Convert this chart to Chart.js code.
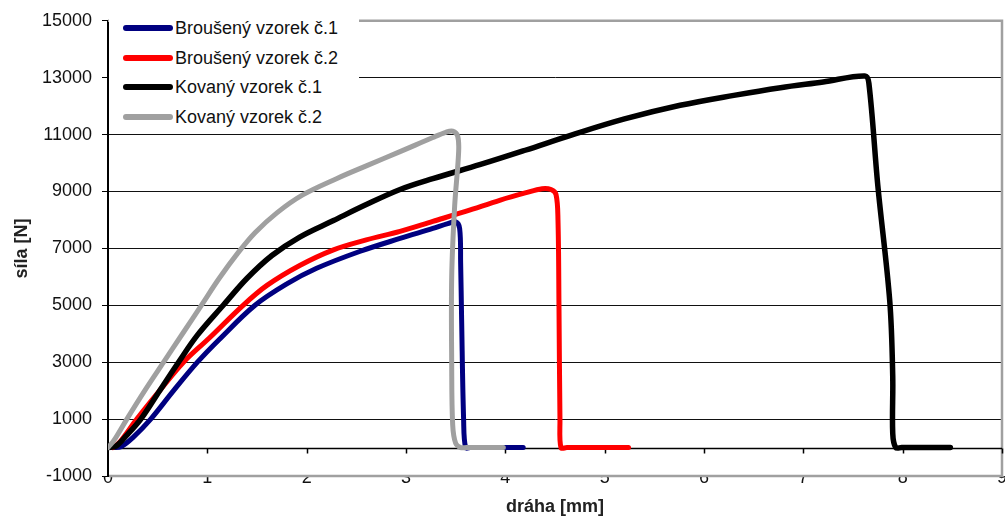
<!DOCTYPE html>
<html lang="cs">
<head>
<meta charset="UTF-8">
<title>Síla – dráha</title>
<script src="https://cdn.jsdelivr.net/npm/chart.js"></script>
<style>
    html, body { margin: 0; padding: 0; background: #fff; }
    #wrap { position: relative; width: 1005px; height: 518px; font-family: 'Liberation Sans', Arial, sans-serif; }
    #chart { position: absolute; left: 0; top: 0; }
    #legend { position: absolute; left: 109px; top: 11px; width: 250px; height: 121px; background: #fff; }
    .item { position: absolute; left: 0; width: 250px; height: 30px; }
    .item .line { position: absolute; left: 14px; top: 12px; width: 50px; height: 6px; border-radius: 3px; }
    .item .label { position: absolute; left: 66px; top: 0; line-height: 30px; font-size: 18px; color: #111; white-space: nowrap; }
</style>
</head>
<body>
<div id="wrap">
    <canvas id="chart" width="1005" height="518"></canvas>
    <div id="legend"></div>
</div>

<script>
    // osa x: dráha [mm], osa y: síla [N]
    const xMin = 0, xMax = 9, xStep = 1;
    const yMin = -1000, yMax = 15000, yStep = 2000;

    const seriesNames = ['Broušený vzorek č.1', 'Broušený vzorek č.2', 'Kovaný vzorek č.1', 'Kovaný vzorek č.2'];
    const seriesColors = ['#000080', '#ff0000', '#000000', '#a0a0a0'];

    // Broušený vzorek č.1
    const brouseny1X = [0.05, 0.13, 0.25, 0.43, 0.66, 0.9, 1.12, 1.48, 1.8, 2.1, 2.54, 2.94, 3.27, 3.42, 3.5, 3.54, 3.55, 3.56, 3.58, 3.6, 3.65, 4.18];
    const brouseny1Y = [0, 30, 350, 1000, 2000, 3000, 3800, 5000, 5750, 6300, 6900, 7350, 7700, 7870, 7930, 7700, 6500, 4500, 1000, 0, 0, 0];

    // Broušený vzorek č.2
    const brouseny2X = [0.05, 0.12, 0.29, 0.52, 0.76, 1.02, 1.36, 1.6, 1.93, 2.27, 2.6, 2.94, 3.27, 3.6, 3.95, 4.2, 4.37, 4.46, 4.51, 4.53, 4.54, 4.55, 4.56, 4.62, 5.24];
    const brouseny2Y = [0, 200, 1000, 2000, 3000, 3850, 5000, 5700, 6400, 6950, 7300, 7600, 7950, 8300, 8700, 8950, 9100, 9070, 8900, 8000, 5000, 1000, 0, 0, 0];

    // Kovaný vzorek č.1
    const kovany1X = [0, 0.08, 0.18, 0.33, 0.52, 0.71, 0.9, 1.16, 1.4, 1.65, 1.93, 2.27, 2.6, 2.94, 3.27, 3.75, 4.2, 4.68, 5.2, 5.76, 6.3, 6.77, 7.2, 7.62, 7.66, 7.75, 7.87, 7.9, 7.9, 7.93, 7.99, 8.48];
    const kovany1Y = [0, 50, 400, 1000, 2000, 3000, 3950, 5000, 5950, 6750, 7400, 7980, 8540, 9070, 9450, 9950, 10450, 11000, 11550, 12030, 12380, 12650, 12850, 13060, 12800, 9200, 5150, 2500, 500, 0, 0, 0];

    // Kovaný vzorek č.2
    const kovany2X = [0, 0.06, 0.19, 0.37, 0.56, 0.75, 0.94, 1.12, 1.31, 1.48, 1.7, 1.96, 2.3, 2.6, 2.94, 3.27, 3.4, 3.47, 3.52, 3.53, 3.49, 3.46, 3.46, 3.47, 3.5, 3.55, 3.61, 3.98];
    const kovany2Y = [0, 250, 1000, 2000, 3000, 4000, 5000, 5950, 6850, 7550, 8250, 8880, 9450, 9900, 10400, 10900, 11080, 11120, 10950, 10400, 8500, 6000, 3000, 800, 150, 0, 0, 0];

    const seriesX = [brouseny1X, brouseny2X, kovany1X, kovany2X];
    const seriesY = [brouseny1Y, brouseny2Y, kovany1Y, kovany2Y];

    // legenda uvnitř grafu (bílý box vlevo nahoře)
    const legendEl = document.getElementById('legend');
    seriesNames.forEach((name, i) => {
        const item = document.createElement('div');
        item.className = 'item';
        item.style.top = (2 + i * 29.7) + 'px';
        item.innerHTML = `<div class="line" style="background:${seriesColors[i]}"></div><div class="label">${name}</div>`;
        legendEl.appendChild(item);
    });

    // rámeček plochy grafu a osa x v nule s čárkami
    const frameAndZero = {
        id: 'frameAndZero',
        beforeDatasetsDraw(chart) {
            const { ctx, chartArea: a, scales: { x, y } } = chart;
            ctx.save();
            ctx.strokeStyle = '#a0a0a0';
            ctx.lineWidth = 2.5;
            ctx.beginPath();
            ctx.moveTo(a.left, a.top);
            ctx.lineTo(a.right, a.top);
            ctx.lineTo(a.right, a.bottom);
            ctx.lineTo(a.left + 1, a.bottom);
            ctx.stroke();

            const y0 = Math.round(y.getPixelForValue(0)) + 0.5;
            ctx.strokeStyle = '#000';
            ctx.lineWidth = 1.5;
            ctx.beginPath();
            ctx.moveTo(a.left, y0);
            ctx.lineTo(a.right, y0);
            for (let v = xMin + xStep; v <= xMax; v += xStep) {
                const px = Math.round(x.getPixelForValue(v)) + 0.5;
                ctx.moveTo(px, y0);
                ctx.lineTo(px, y0 + 5);
            }
            ctx.stroke();
            ctx.restore();
        }
    };

    const datasets = seriesNames.map((name, i) => ({
        label: name,
        data: seriesX[i].map((v, j) => ({ x: v, y: seriesY[i][j] })),
        showLine: true,
        borderColor: seriesColors[i],
        backgroundColor: seriesColors[i],
        borderWidth: i === 2 ? 5.5 : 5,
        pointRadius: 0,
        tension: 0.35,
        borderCapStyle: 'round',
        borderJoinStyle: 'round',
        order: seriesNames.length - i
    }));

    const font = { family: "'Liberation Sans', Arial, sans-serif", size: 18 };

    new Chart(document.getElementById('chart'), {
        type: 'scatter',
        data: { datasets },
        plugins: [frameAndZero],
        options: {
            responsive: false,
            animation: false,
            layout: { padding: { left: 11, top: 20, right: 3, bottom: 0 } },
            plugins: {
                legend: { display: false },
                tooltip: { enabled: false }
            },
            scales: {
                x: {
                    type: 'linear',
                    min: xMin,
                    max: xMax,
                    ticks: {
                        stepSize: xStep,
                        padding: -9,
                        color: '#111',
                        font: font,
                        maxRotation: 0,
                        callback: (v) => String(v)
                    },
                    grid: { display: false, drawTicks: false },
                    border: { display: false },
                    title: {
                        display: true,
                        text: 'dráha [mm]',
                        color: '#222',
                        font: { family: font.family, size: 18, weight: 'bold' },
                        padding: { top: 0, bottom: 0 }
                    },
                    afterFit: (scale) => {
                        scale.height = 42;
                        scale.paddingLeft = 0;
                        scale.paddingRight = 0;
                    }
                },
                y: {
                    type: 'linear',
                    min: yMin,
                    max: yMax,
                    ticks: {
                        stepSize: yStep,
                        padding: 10,
                        color: '#111',
                        font: font,
                        callback: (v) => String(v)
                    },
                    grid: {
                        color: (c) => (c.tick && (c.tick.value === yMin || c.tick.value === yMax)) ? 'rgba(0,0,0,0)' : '#111',
                        tickColor: '#000',
                        lineWidth: 1,
                        tickLength: 6
                    },
                    border: { display: true, color: '#000', width: 2 },
                    title: {
                        display: true,
                        text: 'síla [N]',
                        color: '#222',
                        font: { family: font.family, size: 18, weight: 'bold' },
                        padding: { top: 0, bottom: 0 }
                    },
                    afterFit: (scale) => {
                        scale.width = 97;
                    }
                }
            }
        }
    });
</script>
</body>
</html>
